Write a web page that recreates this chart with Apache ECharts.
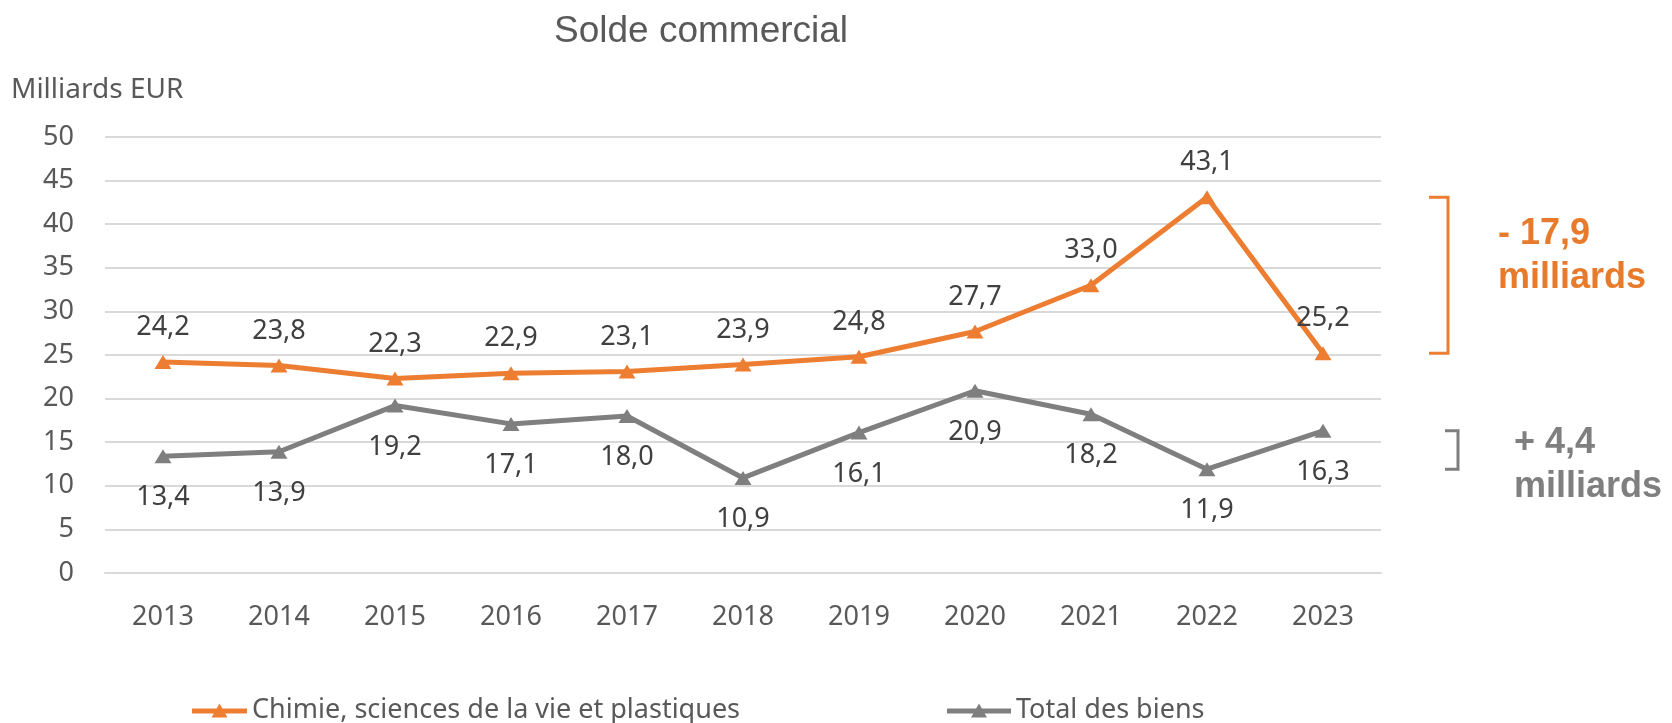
<!DOCTYPE html>
<html>
<head>
<meta charset="utf-8">
<title>Solde commercial</title>
<script src="https://cdn.jsdelivr.net/npm/echarts@6/dist/echarts.min.js"></script>
<style>
  html, body { margin: 0; padding: 0; background: #fff; }
  #myChart { width: 1672px; height: 723px; }
</style>
</head>
<body>
<div id="myChart"></div>
<script>
// données
const years = ['2013', '2014', '2015', '2016', '2017', '2018', '2019', '2020', '2021', '2022', '2023']
const chimie = [24.2, 23.8, 22.3, 22.9, 23.1, 23.9, 24.8, 27.7, 33.0, 43.1, 25.2]
const totalBiens = [13.4, 13.9, 19.2, 17.1, 18.0, 10.9, 16.1, 20.9, 18.2, 11.9, 16.3]
const yTicks = [0, 5, 10, 15, 20, 25, 30, 35, 40, 45, 50]

const nameChimie = 'Chimie, sciences de la vie et plastiques'
const nameTotal = 'Total des biens'
const orange = '#ED7D31'
const gris = '#7F7F7F'
const fontTxt = '"Noto Sans", sans-serif'

const fmt = v => v.toFixed(1).replace('.', ',')

let myChart = echarts.init(document.getElementById('myChart'))

function serie (name, data, color, pos, dist) {
  return {
    name: name,
    type: 'line',
    data: data,
    symbol: 'triangle',
    symbolSize: [17, 14],
    itemStyle: { color: color },
    lineStyle: { color: color, width: 5 },
    label: {
      show: true,
      position: pos,
      distance: dist,
      color: '#404040',
      fontSize: 27,
      fontFamily: fontTxt,
      formatter: p => fmt(p.value)
    },
    animation: false
  }
}

// icône de légende : trait épais + triangle (comme Excel)
function legende (name, left, icon, w) {
  return {
    data: [{ name: name, icon: icon }],
    left: left,
    top: 692,
    itemWidth: w,
    itemHeight: 14,
    textStyle: { fontFamily: fontTxt, fontSize: 27, color: '#595959' }
  }
}
const iconChimie = 'path://M0,5 L24.6,5 L27.5,0 L30.4,5 L55,5 L55,10 L33.2,10 L35.5,14 L19.5,14 L21.8,10 L0,10 Z'
const iconTotal = 'path://M0,5 L29.1,5 L32,0 L34.9,5 L64,5 L64,10 L37.7,10 L40,14 L24,14 L26.3,10 L0,10 Z'

let option = {
  backgroundColor: '#fff',
  title: [
    {
      text: 'Solde commercial',
      left: 549,
      top: 8,
      textStyle: { fontFamily: '"Liberation Sans", Arial, sans-serif', fontSize: 37, fontWeight: 'normal', color: '#595959' }
    },
    {
      text: 'Milliards EUR',
      left: 6,
      top: 71,
      textStyle: { fontFamily: fontTxt, fontSize: 28, fontWeight: 'normal', color: '#595959' }
    }
  ],
  legend: [
    legende(nameChimie, 187, iconChimie, 55),
    legende(nameTotal, 942, iconTotal, 64)
  ],
  grid: {
    left: 105,
    right: 291,
    top: 137,
    bottom: 150
  },
  xAxis: {
    type: 'category',
    data: years,
    axisLine: { show: true, lineStyle: { color: '#D9D9D9', width: 2 } },
    axisTick: { show: false },
    axisLabel: { margin: 31, fontSize: 27, fontFamily: fontTxt, color: '#595959' }
  },
  yAxis: {
    type: 'value',
    min: yTicks[0],
    max: yTicks[yTicks.length - 1],
    interval: yTicks[1] - yTicks[0],
    axisLine: { show: false },
    axisTick: { show: false },
    splitLine: { lineStyle: { color: '#D9D9D9', width: 2 } },
    axisLabel: { margin: 31, fontSize: 27, fontFamily: fontTxt, color: '#595959' }
  },
  series: [
    serie(nameChimie, chimie, orange, 'top', 14),
    serie(nameTotal, totalBiens, gris, 'bottom', 21)
  ]
}

myChart.setOption(option)

// accolades et écarts 2022 -> 2023
const n = years.length
function yPix (v) {
  return myChart.convertToPixel({ yAxisIndex: 0 }, v)
}
function crochet (a, b, xv, tick, color) {
  let y1 = yPix(Math.max(a, b))
  let y2 = yPix(Math.min(a, b))
  return {
    type: 'polyline',
    shape: { points: [[xv - tick, y1], [xv, y1], [xv, y2], [xv - tick, y2]] },
    style: { stroke: color, lineWidth: 3, fill: null }
  }
}
const dChimie = chimie[n - 1] - chimie[n - 2]
const dTotal = totalBiens[n - 1] - totalBiens[n - 2]
const signe = d => (d < 0 ? '- ' : '+ ') + fmt(Math.abs(d))

myChart.setOption({
  graphic: [
    crochet(chimie[n - 2], chimie[n - 1], 1448, 19, orange),
    crochet(totalBiens[n - 2], totalBiens[n - 1], 1458, 13, gris),
    {
      type: 'text',
      x: 1498,
      y: 212,
      style: {
        text: signe(dChimie) + '\nmilliards',
        font: 'bold 36px "Liberation Sans", Arial, sans-serif',
        lineHeight: 44,
        fill: '#E87A2C',
        verticalAlign: 'top'
      }
    },
    {
      type: 'text',
      x: 1514,
      y: 421,
      style: {
        text: signe(dTotal) + '\nmilliards',
        font: 'bold 36px "Liberation Sans", Arial, sans-serif',
        lineHeight: 44,
        fill: gris,
        verticalAlign: 'top'
      }
    }
  ]
})
</script>
</body>
</html>
